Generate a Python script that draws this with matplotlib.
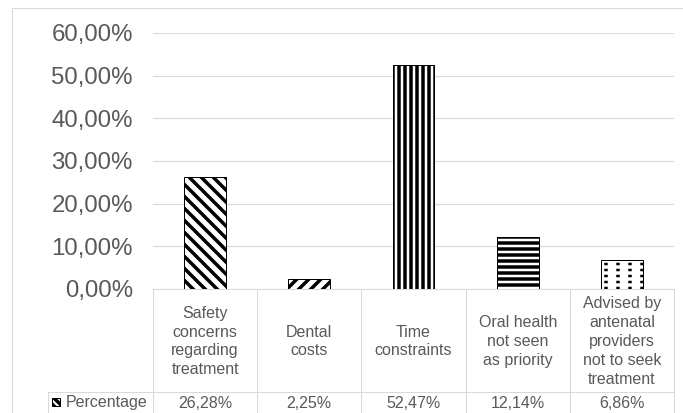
import numpy as np
import matplotlib
matplotlib.use("Agg")
import matplotlib.pyplot as plt
from matplotlib.lines import Line2D
from matplotlib.patches import Rectangle

# Data
categories = [
    "Safety\nconcerns\nregarding\ntreatment",
    "Dental\ncosts",
    "Time\nconstraints",
    "Oral health\nnot seen\nas priority",
    "Advised by\nantenatal\nproviders\nnot to seek\ntreatment",
]
values = [26.28, 2.25, 52.47, 12.14, 6.86]
value_labels = ["26,28%", "2,25%", "52,47%", "12,14%", "6,86%"]
series_name = "Percentage"
yticks = [0, 10, 20, 30, 40, 50, 60]
hatches = ["\\\\", "//", "||", "--", "|"]

# Style
W, H = 683, 413
txt = "#595959"
grid = "#d9d9d9"
plt.rcParams["font.family"] = ["Liberation Sans", "DejaVu Sans"]
plt.rcParams["hatch.linewidth"] = 3.5

fig = plt.figure(figsize=(W / 72, H / 72), dpi=72)


def fx(x):
    return x / W


def fy(y):
    return 1 - y / H


def line(x0, y0, x1, y1, c=grid, lw=1.0):
    fig.add_artist(Line2D([fx(x0), fx(x1)], [fy(y0), fy(y1)],
                          transform=fig.transFigure, color=c, lw=lw))


# plot area (pixel geometry of the reference)
left, right, top, bottom = 153, 674, 33, 289
ax = fig.add_axes([fx(left), fy(bottom), fx(right - left), (bottom - top) / H])
x = np.arange(len(values))

for i, (v, h) in enumerate(zip(values, hatches)):
    ax.bar(x[i], v, width=0.4, color="white", edgecolor="black",
           hatch=h, lw=1.0, zorder=3)
# dashed look for the last bar: white horizontal hatch over the vertical one
ax.bar(x[4], values[4], width=0.4, color="none", edgecolor="white",
       hatch="--", lw=0, zorder=4)
ax.bar(x[4], values[4], width=0.4, color="none", edgecolor="black",
       lw=1.0, zorder=5)

ax.set_xlim(-0.5, len(values) - 0.5)
ax.set_ylim(0, 60)
ax.set_yticks(yticks)
ax.set_yticklabels([f"{t},00%" for t in yticks])
ax.set_xticks([])
ax.tick_params(axis="y", length=0, pad=20, labelsize=24, labelcolor=txt)
ax.grid(axis="y", color=grid, lw=1.2, zorder=0)
for s in ax.spines.values():
    s.set_visible(False)

# outer chart frame
line(12, 8, W, 8)
line(12, 8, 12, H)

# data table
cols = np.linspace(left, right, len(values) + 1)
row_y = 392
line(left, bottom, right, bottom)
for c in cols:
    line(c, bottom, c, H)
line(48, row_y, right, row_y)
line(48, row_y, 48, H)

for i, cat in enumerate(categories):
    cx = (cols[i] + cols[i + 1]) / 2
    fig.text(fx(cx), fy((bottom + row_y) / 2 + 1), cat, ha="center",
             va="center", fontsize=16, color=txt, linespacing=1.32)
    fig.text(fx(cx), fy(403), value_labels[i], ha="center", va="center",
             fontsize=16, color=txt)

# legend key in the row header
fig.add_artist(Rectangle((fx(52), fy(406)), fx(8), 8 / H,
                         transform=fig.transFigure, facecolor="white",
                         edgecolor="black", hatch="\\\\\\", lw=1.0))
fig.text(fx(66), fy(403), series_name, ha="left", va="center",
         fontsize=16, color=txt)

fig.savefig("out.png", dpi=72)
